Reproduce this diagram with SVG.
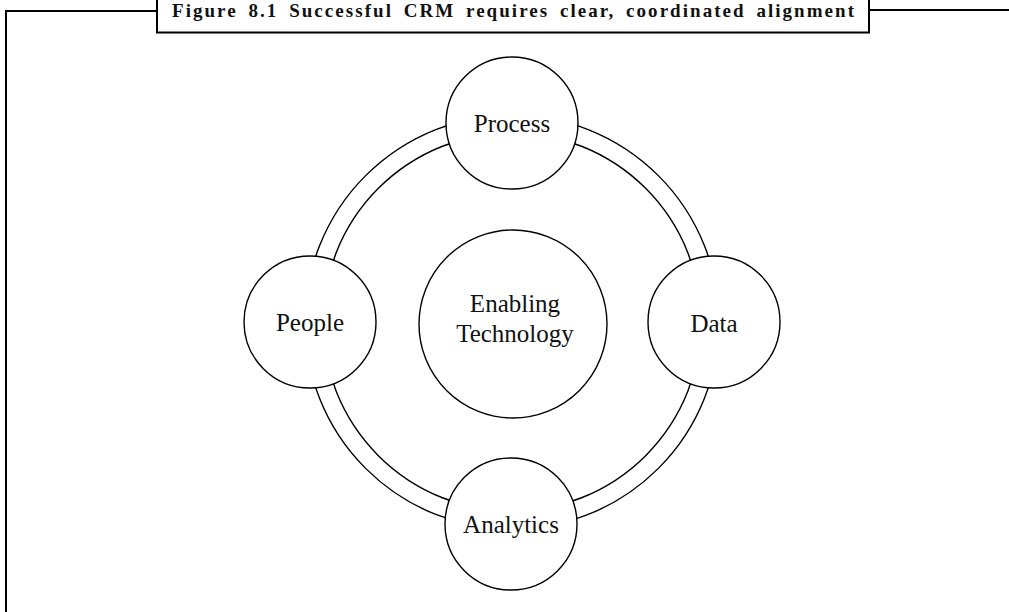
<svg xmlns="http://www.w3.org/2000/svg" width="1009" height="612" viewBox="0 0 1009 612">
<style>
.frame{fill:none;stroke:#000;stroke-width:2}
.ring{fill:none;stroke:#000;stroke-width:1.4}
.node{fill:#fff;stroke:#000;stroke-width:1.4}
.lbl{font-family:"Liberation Serif","Times New Roman",serif;font-size:25px;fill:#111;text-anchor:middle}
.title{font-family:"Liberation Serif","Times New Roman",serif;font-size:19px;font-weight:bold;fill:#111;word-spacing:4px}
</style>
<rect width="1009" height="612" fill="#fff"/>
<g id="frame">
<polyline class="frame" points="6,612 6,11 157,11"/>
<line class="frame" x1="869" y1="10" x2="1009" y2="10"/>
<rect class="frame" x="157" y="-3" width="712" height="35.5" fill="#fff"/>
<text class="title" x="172" y="17" textLength="682" lengthAdjust="spacing">Figure 8.1 Successful CRM requires clear, coordinated alignment</text>
</g>
<g id="connectors">
<circle class="ring" cx="512" cy="322" r="207"/>
<circle class="ring" cx="512" cy="322" r="189"/>
</g>
<g id="process">
<circle class="node" cx="512" cy="123" r="66"/>
<text class="lbl" x="512" y="132">Process</text>
</g>
<g id="people">
<circle class="node" cx="310" cy="322" r="66"/>
<text class="lbl" x="310" y="331">People</text>
</g>
<g id="data">
<circle class="node" cx="714" cy="322" r="66"/>
<text class="lbl" x="714" y="332">Data</text>
</g>
<g id="analytics">
<circle class="node" cx="511" cy="524" r="66"/>
<text class="lbl" x="511" y="533">Analytics</text>
</g>
<g id="enabling">
<circle class="node" cx="513" cy="324" r="94"/>
<text class="lbl" x="515" y="312">Enabling</text>
<text class="lbl" x="515" y="342">Technology</text>
</g>
</svg>
